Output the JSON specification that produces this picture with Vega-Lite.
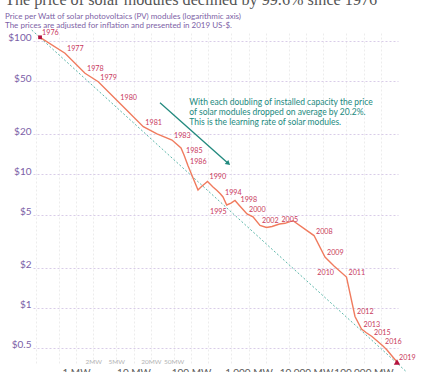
{
  "$schema": "https://vega.github.io/schema/vega-lite/v6.json",
  "width": 365,
  "height": 330,
  "autosize": {"type": "none"},
  "padding": {"left": 33, "top": 33, "right": 27, "bottom": 9},
  "background": "white",
  "config": {"view": {"stroke": null}, "font": "Lato"},
  "title": {
    "text": "The price of solar modules declined by 99.6% since 1976",
    "subtitle": ["Price per Watt of solar photovoltaics (PV) modules (logarithmic axis)", "The prices are adjusted for inflation and presented in 2019 US-$."],
    "anchor": "start",
    "frame": "group",
    "dx": -28,
    "dy": 5,
    "offset": 3,
    "font": "Liberation Serif",
    "fontSize": 16.2,
    "fontWeight": "normal",
    "color": "#555555",
    "subtitleFont": "Lato",
    "subtitleFontSize": 8,
    "subtitleColor": "#7d5fa6",
    "subtitlePadding": 5,
    "subtitleLineHeight": 9
  },
  "datasets": {
    "series": [
      {"year": 1976, "mw": 0.237, "price": 106.6, "label": "1976"},
      {"year": 1977, "mw": 0.644, "price": 80.9, "label": "1977"},
      {"year": 1978, "mw": 1.434, "price": 57.3, "label": "1978"},
      {"year": 1979, "mw": 2.44, "price": 49.5, "label": "1979"},
      {"year": 1980, "mw": 5.44, "price": 35.1, "label": "1980"},
      {"year": 1981, "mw": 14.8, "price": 22.8, "label": "1981"},
      {"year": 1982, "mw": 25.6, "price": 20.1, "label": ""},
      {"year": 1983, "mw": 46.7, "price": 18.1, "label": "1983"},
      {"year": 1984, "mw": 67.0, "price": 15.8, "label": ""},
      {"year": 1985, "mw": 75.6, "price": 14.0, "label": "1985"},
      {"year": 1986, "mw": 88.7, "price": 11.6, "label": "1986"},
      {"year": 1987, "mw": 132.4, "price": 7.64, "label": ""},
      {"year": 1988, "mw": 149.2, "price": 8.05, "label": ""},
      {"year": 1989, "mw": 171.7, "price": 8.47, "label": ""},
      {"year": 1990, "mw": 193.6, "price": 8.85, "label": "1990"},
      {"year": 1991, "mw": 241.3, "price": 8.05, "label": ""},
      {"year": 1992, "mw": 283.3, "price": 7.57, "label": ""},
      {"year": 1993, "mw": 326.1, "price": 7.13, "label": ""},
      {"year": 1994, "mw": 360.2, "price": 6.77, "label": "1994"},
      {"year": 1995, "mw": 417.8, "price": 5.90, "label": "1995"},
      {"year": 1996, "mw": 496.3, "price": 6.10, "label": ""},
      {"year": 1997, "mw": 582.3, "price": 6.37, "label": ""},
      {"year": 1998, "mw": 670, "price": 5.95, "label": "1998"},
      {"year": 1999, "mw": 802, "price": 5.46, "label": ""},
      {"year": 2000, "mw": 941.7, "price": 5.05, "label": "2000"},
      {"year": 2001, "mw": 1197, "price": 4.80, "label": ""},
      {"year": 2002, "mw": 1585, "price": 4.14, "label": "2002"},
      {"year": 2003, "mw": 2056, "price": 4.00, "label": ""},
      {"year": 2004, "mw": 2563, "price": 4.07, "label": ""},
      {"year": 2005, "mw": 3450, "price": 4.25, "label": "2005"},
      {"year": 2006, "mw": 4300, "price": 4.30, "label": ""},
      {"year": 2007, "mw": 5941, "price": 4.50, "label": ""},
      {"year": 2008, "mw": 13775, "price": 3.48, "label": "2008"},
      {"year": 2009, "mw": 21400, "price": 2.40, "label": "2009"},
      {"year": 2010, "mw": 30690, "price": 2.06, "label": "2010"},
      {"year": 2011, "mw": 50610, "price": 1.70, "label": "2011"},
      {"year": 2012, "mw": 71150, "price": 0.861, "label": "2012"},
      {"year": 2013, "mw": 92300, "price": 0.694, "label": "2013"},
      {"year": 2014, "mw": 110500, "price": 0.653, "label": ""},
      {"year": 2015, "mw": 140500, "price": 0.609, "label": "2015"},
      {"year": 2016, "mw": 218300, "price": 0.517, "label": "2016"},
      {"year": 2017, "mw": 256300, "price": 0.483, "label": ""},
      {"year": 2018, "mw": 313100, "price": 0.435, "label": ""},
      {"year": 2019, "mw": 382500, "price": 0.3925, "label": "2019"}
    ],
    "trend": [
      {"mw": 0.1697, "price": 120.9},
      {"mw": 564000, "price": 0.330}
    ],
    "arrow": [
      {"mw": 28.9, "price": 34.5, "mw2": 445.4, "price2": 12.07}
    ],
    "note": [
      {"mw": 93.4, "price": 37.1, "text": ["With each doubling of installed capacity the price", "of solar modules dropped on average by 20.2%.", "This is the learning rate of solar modules."]}
    ]
  },
  "encoding": {
    "x": {"field": "mw", "type": "quantitative", "scale": {"type": "log", "domain": [0.1787, 398107], "nice": false}, "axis": null},
    "y": {"field": "price", "type": "quantitative", "scale": {"type": "log", "domain": [0.3857, 114.8], "nice": false},
      "axis": {"values": [0.5, 1, 2, 5, 10, 20, 50, 100], "labelExpr": "'$' + datum.value", "grid": true, "gridColor": "#d9cce8", "gridDash": [2, 2], "ticks": false, "domain": false, "labelBaseline": "alphabetic", "labelPadding": 2, "labelFontSize": 10, "labelColor": "#7b5ea7", "title": null, "labelFont": "Lato"}}
  },
  "layer": [
    {
      "data": {"name": "trend"},
      "mark": {"type": "line", "color": "#5db7aa", "strokeWidth": 1, "strokeDash": [2, 2], "clip": false},
      "encoding": {
        "x": {"field": "mw", "type": "quantitative", "scale": {"type": "log", "domain": [0.1787, 398107], "nice": false},
          "axis": {"orient": "bottom", "values": [0.2, 0.5, 1, 2, 5, 10, 20, 50, 100, 200, 500, 1000, 2000, 5000, 10000, 20000, 50000, 100000, 200000], "labelExpr": "indexof([1,10,100,1000,10000,100000], datum.value) >= 0 ? format(datum.value, ',') + ' MW' : ''", "grid": true, "gridColor": "#ececec", "gridDash": [2, 2], "ticks": false, "domain": false, "labelPadding": 4, "labelFontSize": 10, "labelColor": "#5b5b5b", "labelFont": "Lato", "title": null, "labelOverlap": false, "labelFlush": false, "labelBaseline": "top"}}
      }
    },
    {
      "data": {"name": "series"},
      "mark": {"type": "line", "color": "#f07b5e", "strokeWidth": 1.4},
      "encoding": {"order": {"field": "year", "type": "quantitative"}}
    },
    {
      "data": {"name": "series"},
      "transform": [{"filter": "datum.label != '' && datum.year != 1995 && datum.year != 2010"}],
      "mark": {"type": "text", "align": "left", "baseline": "middle", "dx": 2, "dy": -4, "fontSize": 7.2, "color": "#c9395d", "font": "Lato"},
      "encoding": {"text": {"field": "label"}}
    },
    {
      "data": {"name": "series"},
      "transform": [{"filter": "datum.year == 1995 || datum.year == 2010"}],
      "mark": {"type": "text", "align": "right", "baseline": "top", "dx": 0, "dy": 3, "fontSize": 7.2, "color": "#c9395d", "font": "Lato"},
      "encoding": {"text": {"field": "label"}}
    },
    {
      "data": {"name": "series"},
      "transform": [{"filter": "datum.year == 1976"}],
      "mark": {"type": "point", "shape": "square", "filled": true, "size": 14, "color": "#b5123e", "opacity": 1},
      "encoding": {
        "x": {"field": "mw", "type": "quantitative", "scale": {"type": "log", "domain": [0.1787, 398107], "nice": false},
          "axis": {"orient": "bottom", "values": [2, 5, 20, 50], "labelExpr": "datum.value + 'MW'", "grid": false, "ticks": false, "domain": false, "offset": -5, "labelPadding": 0, "labelFontSize": 6.5, "labelColor": "#b3b3b3", "labelFont": "Lato", "title": null, "labelBaseline": "top", "labelOverlap": false, "labelFlush": false}}
      }
    },
    {
      "data": {"name": "series"},
      "transform": [{"filter": "datum.year == 2019"}],
      "mark": {"type": "point", "shape": "triangle-up", "filled": true, "size": 40, "color": "#b5123e", "opacity": 1}
    },
    {
      "data": {"name": "arrow"},
      "mark": {"type": "rule", "color": "#21897e", "strokeWidth": 1.3},
      "encoding": {
        "x2": {"field": "mw2"},
        "y2": {"field": "price2"}
      }
    },
    {
      "data": {"name": "arrow"},
      "mark": {"type": "point", "shape": "triangle-up", "filled": true, "size": 30, "angle": 131.7, "color": "#21897e", "opacity": 1},
      "encoding": {
        "x": {"field": "mw2", "type": "quantitative", "scale": {"type": "log", "domain": [0.1787, 398107], "nice": false}, "axis": null},
        "y": {"field": "price2", "type": "quantitative", "scale": {"type": "log", "domain": [0.3857, 114.8], "nice": false}}
      }
    },
    {
      "data": {"name": "note"},
      "mark": {"type": "text", "align": "left", "baseline": "top", "fontSize": 8.5, "lineHeight": 10, "color": "#21897e", "font": "Lato"},
      "encoding": {"text": {"field": "text"}}
    }
  ],
  "resolve": {"axis": {"x": "independent"}}
}
